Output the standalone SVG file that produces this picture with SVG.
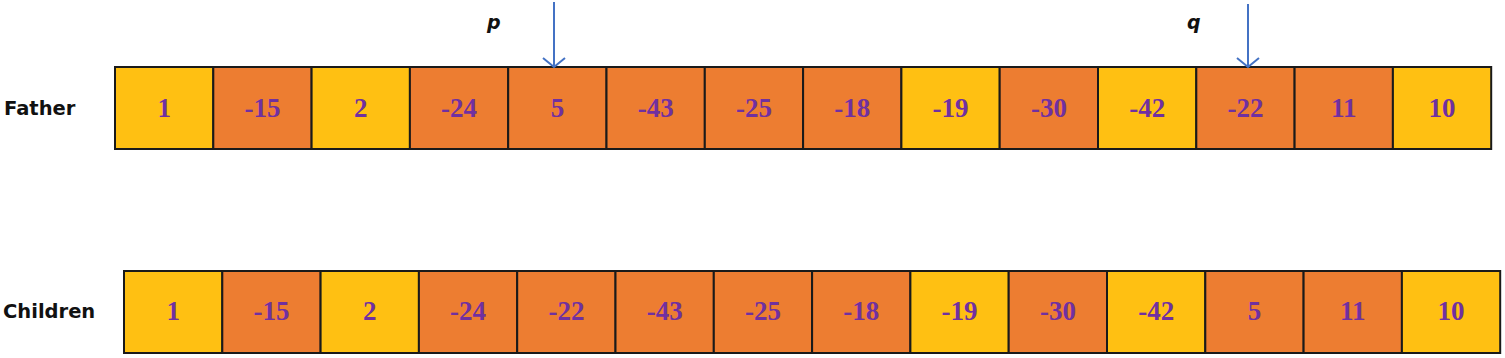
<svg xmlns="http://www.w3.org/2000/svg" width="1505" height="358" viewBox="0 0 1505 358">
<style>
.y{fill:#FFC012;stroke:#1a1a1a;stroke-width:2}
.o{fill:#ED7D31;stroke:#1a1a1a;stroke-width:2}
.v{font-family:"Liberation Serif",serif;font-weight:bold;font-size:27px;fill:#7030A0;text-anchor:middle}
.lbl{font-family:"DejaVu Sans",sans-serif;font-weight:bold;font-size:19.5px;fill:#111}
.pq{font-family:"DejaVu Sans",sans-serif;font-weight:bold;font-style:italic;font-size:19px;fill:#111}
.arr{stroke:#4472C4;stroke-width:2;fill:none}
</style>
<rect width="1505" height="358" fill="#fff"/>
<text class="lbl" x="4" y="115">Father</text>
<text class="lbl" x="3" y="318">Children</text>
<text class="pq" x="487" y="29">p</text>
<text class="pq" x="1187" y="29">q</text>
<g id="father">
<g id="f0"><rect class="y" x="115" y="67" width="98.3" height="82"/><text class="v" x="164.2" y="117">1</text></g>
<g id="f1"><rect class="o" x="213.3" y="67" width="98.3" height="82"/><text class="v" x="262.5" y="117">-15</text></g>
<g id="f2"><rect class="y" x="311.6" y="67" width="98.3" height="82"/><text class="v" x="360.8" y="117">2</text></g>
<g id="f3"><rect class="o" x="409.9" y="67" width="98.3" height="82"/><text class="v" x="459.1" y="117">-24</text></g>
<g id="f4"><rect class="o" x="508.2" y="67" width="98.3" height="82"/><text class="v" x="557.4" y="117">5</text></g>
<g id="f5"><rect class="o" x="606.5" y="67" width="98.3" height="82"/><text class="v" x="655.7" y="117">-43</text></g>
<g id="f6"><rect class="o" x="704.8" y="67" width="98.3" height="82"/><text class="v" x="754" y="117">-25</text></g>
<g id="f7"><rect class="o" x="803.1" y="67" width="98.3" height="82"/><text class="v" x="852.3" y="117">-18</text></g>
<g id="f8"><rect class="y" x="901.4" y="67" width="98.3" height="82"/><text class="v" x="950.6" y="117">-19</text></g>
<g id="f9"><rect class="o" x="999.7" y="67" width="98.3" height="82"/><text class="v" x="1048.9" y="117">-30</text></g>
<g id="f10"><rect class="y" x="1098" y="67" width="98.3" height="82"/><text class="v" x="1147.2" y="117">-42</text></g>
<g id="f11"><rect class="o" x="1196.3" y="67" width="98.3" height="82"/><text class="v" x="1245.5" y="117">-22</text></g>
<g id="f12"><rect class="o" x="1294.6" y="67" width="98.3" height="82"/><text class="v" x="1343.8" y="117">11</text></g>
<g id="f13"><rect class="y" x="1392.9" y="67" width="98.3" height="82"/><text class="v" x="1442.1" y="117">10</text></g>
</g>
<g id="children">
<g id="c0"><rect class="y" x="124" y="271" width="98.3" height="82"/><text class="v" x="173.2" y="320">1</text></g>
<g id="c1"><rect class="o" x="222.3" y="271" width="98.3" height="82"/><text class="v" x="271.5" y="320">-15</text></g>
<g id="c2"><rect class="y" x="320.6" y="271" width="98.3" height="82"/><text class="v" x="369.8" y="320">2</text></g>
<g id="c3"><rect class="o" x="418.9" y="271" width="98.3" height="82"/><text class="v" x="468.1" y="320">-24</text></g>
<g id="c4"><rect class="o" x="517.2" y="271" width="98.3" height="82"/><text class="v" x="566.4" y="320">-22</text></g>
<g id="c5"><rect class="o" x="615.5" y="271" width="98.3" height="82"/><text class="v" x="664.7" y="320">-43</text></g>
<g id="c6"><rect class="o" x="713.8" y="271" width="98.3" height="82"/><text class="v" x="763" y="320">-25</text></g>
<g id="c7"><rect class="o" x="812.1" y="271" width="98.3" height="82"/><text class="v" x="861.3" y="320">-18</text></g>
<g id="c8"><rect class="y" x="910.4" y="271" width="98.3" height="82"/><text class="v" x="959.6" y="320">-19</text></g>
<g id="c9"><rect class="o" x="1008.7" y="271" width="98.3" height="82"/><text class="v" x="1057.9" y="320">-30</text></g>
<g id="c10"><rect class="y" x="1107" y="271" width="98.3" height="82"/><text class="v" x="1156.2" y="320">-42</text></g>
<g id="c11"><rect class="o" x="1205.3" y="271" width="98.3" height="82"/><text class="v" x="1254.5" y="320">5</text></g>
<g id="c12"><rect class="o" x="1303.6" y="271" width="98.3" height="82"/><text class="v" x="1352.8" y="320">11</text></g>
<g id="c13"><rect class="y" x="1401.9" y="271" width="98.3" height="82"/><text class="v" x="1451.1" y="320">10</text></g>
</g>
<g id="connectors">
<path class="arr" d="M554 2V66M543 58L554 67L565 58"/>
<path class="arr" d="M1248 4V66M1237 58L1248 67L1259 58"/>
</g>
</svg>
